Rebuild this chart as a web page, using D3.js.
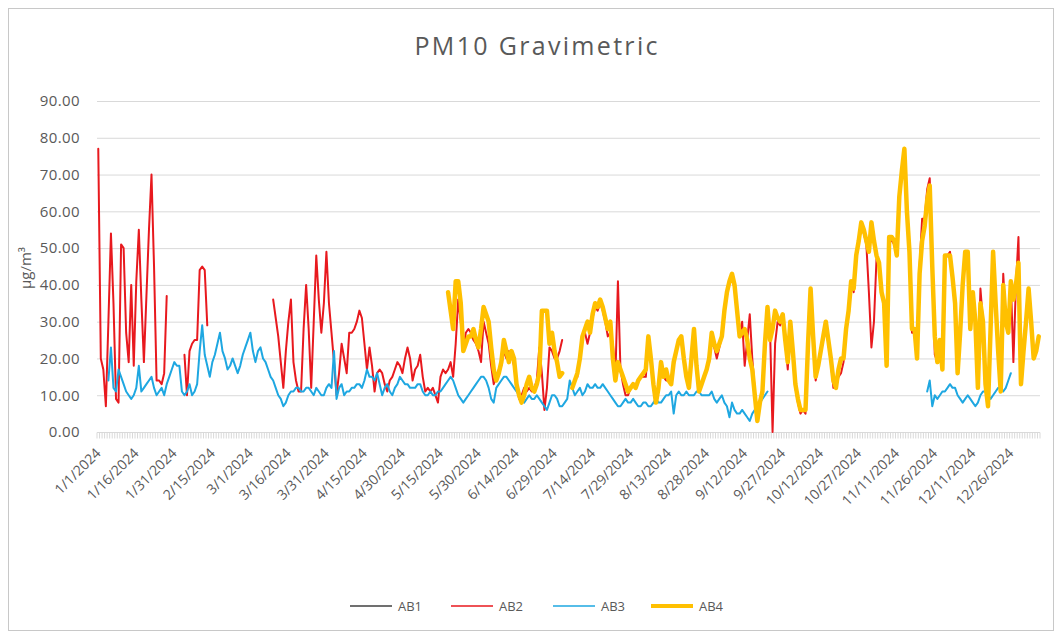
<!DOCTYPE html>
<html lang="en">
<head>
<meta charset="UTF-8">
<script src="https://cdn.jsdelivr.net/npm/d3@7/dist/d3.min.js"></script>
<style>
    body { margin: 0; background: #fff; }
    svg text { font-family: "Open Sans", "Liberation Sans", sans-serif; fill: #595959; }
</style>
</head>
<body>
<svg width="1062" height="634"></svg>
<script>
    // daily categories (sheet runs a few days into 2025), labels every 15 days
    var days = d3.timeDay.range(new Date(2024, 0, 1), new Date(2025, 0, 7));
    var fmt = function (d) { return (d.getMonth() + 1) + "/" + d.getDate() + "/" + d.getFullYear(); };
    var categories = days.map(fmt);
    var tickLabels = ["1/1/2024", "1/16/2024", "1/31/2024", "2/15/2024", "3/1/2024", "3/16/2024", "3/31/2024",
        "4/15/2024", "4/30/2024", "5/15/2024", "5/30/2024", "6/14/2024", "6/29/2024", "7/14/2024", "7/29/2024",
        "8/13/2024", "8/28/2024", "9/12/2024", "9/27/2024", "10/12/2024", "10/27/2024", "11/11/2024",
        "11/26/2024", "12/11/2024", "12/26/2024"];
    var yTicks = [0, 10, 20, 30, 40, 50, 60, 70, 80, 90];
    var seriesNames = ["AB1", "AB2", "AB3", "AB4"];

    // each series: runs of daily values, with the day index where each run starts
    var ab1Start = [];
    var ab1Values = [];

    var ab2Start = [0, 34, 69, 189];
    var ab2Values = [
        [77,20,17,7,30,54,35,9,8,51,50,27,19,40,18,41,55,36,19,37,55,70,45,14,14,13,16,37],
        [21,10,22,24,25,25,44,45,44,29],
        [36,31,26,19,12,22,30,36,19,14,11,11,28,40,28,12,30,48,36,27,35,49,35,27,
         19,10,16,24,20,16,27,27,28,30,33,31,24,17,23,18,11,16,17,16,13,11,14,15,17,19,18,16,20,23,20,14,17,18,21,15,
         11,12,11,12,10,8,15,17,16,17,19,15,24,36,30,22,27,28,27,25,24,22,19,30,27,
         24,18,13,15,17,18,22,20,22,21,18,14,9,10,12,11,12,11,12,14,23,16,6,12,23,22,20,20,22,25],
        [15,21,26,27,24,27,31,34,33,35,33,30,26,27,24,15,41,17,13,10,10,12,13,12,14,15,15,
         15,24,19,13,9,12,18,15,14,14,13,18,22,25,25,19,15,13,20,26,18,11,13,15,17,19,26,23,20,23,26,33,37,41,
         42,39,33,27,30,18,25,32,20,11,4,8,12,23,33,28,0,24,30,29,31,24,17,29,21,12,8,
         5,6,5,22,37,25,14,18,22,25,29,24,19,12,12,15,16,19,28,33,41,38,48,52,55,54,51,38,23,30,
         47,45,38,34,18,52,52,51,48,63,70,76,59,49,27,27,20,45,58,58,66,69,45,21,19,25,17,48,48,49,42,
         35,16,27,40,49,49,28,37,30,13,39,30,13,7,28,49,35,22,11,43,30,27,41,19,40,53,14,22,30,38,30,20,22,25]
    ];

    var ab3Start = [4, 327];
    var ab3Values = [
        [14,23,12,11,17,15,13,11,10,9,10,12,18,11,12,13,14,15,12,10,11,12,10,13,15,17,19,18,
         18,11,10,11,13,10,11,13,22,29,21,18,15,19,21,24,27,22,20,17,18,20,18,16,18,21,23,25,27,22,19,22,
         23,20,19,17,15,14,12,10,9,7,8,10,11,11,12,12,11,11,12,12,11,10,12,11,10,10,12,13,12,
         22,9,12,13,10,11,11,12,12,13,13,12,14,17,15,15,14,16,13,10,12,13,11,10,12,13,15,14,13,13,
         12,12,12,13,13,11,10,10,11,10,10,11,11,12,13,14,15,14,12,10,9,8,9,10,11,12,13,14,15,15,14,
         12,9,8,12,13,14,15,15,14,13,12,11,10,9,8,9,10,9,9,10,9,8,7,6,8,10,10,9,7,7,
         8,9,14,12,10,11,12,10,11,13,12,12,13,12,12,13,12,11,10,9,8,7,7,8,9,8,8,9,8,7,7,8,
         8,7,7,8,9,8,8,9,10,10,11,5,10,11,10,10,11,10,10,10,11,11,10,10,10,10,11,9,8,9,
         10,8,7,4,8,6,5,5,6,5,4,3,5,6,7,8,9,10,11],
        [11,14,7,10,9,10,11,11,12,13,12,12,10,9,8,9,10,9,8,7,8,10,11,11,10,9,10,11,12,12,11,12,14,16]
    ];

    var ab4Start = [138, 187];
    var ab4Values = [
        [38,33,28,41,41,35,22,24,26,26,28,25,23,28,34,32,
         30,23,17,14,16,19,25,22,19,22,20,13,10,8,10,13,15,12,11,13,16,33,33,33,24,27,22,19,15,16],
        [12,14,16,20,26,28,30,27,32,35,34,36,34,31,28,30,20,14,19,17,15,13,11,12,13,12,14,15,16,
         17,26,20,13,8,12,19,15,17,14,13,19,22,25,26,20,15,12,20,28,18,11,13,15,17,20,27,24,22,24,
         26,33,38,41,43,40,33,26,27,28,25,20,17,10,3,8,11,24,34,25,28,33,31,30,32,25,19,30,22,13,9,
         6,6,6,24,39,26,15,18,22,26,30,25,20,14,12,17,20,20,28,33,41,39,48,52,57,55,52,49,57,52,
         48,46,38,35,18,53,53,52,48,64,71,77,60,49,28,28,20,43,52,56,63,67,45,26,19,25,17,48,48,48,42,
         35,16,27,40,49,49,28,38,30,12,35,30,13,7,28,49,35,22,11,40,30,27,41,36,40,46,13,22,30,39,30,20,22,26]
    ];

    var colors = ["#404040", "#e8191e", "#1ea7e1", "#ffc000"];
    var widths = [2, 2, 2, 4.5];

    // turn runs into [day, value] points, with a break between runs
    function toPoints(starts, runs) {
        var pts = [];
        runs.forEach(function (vals, r) {
            if (r > 0) pts.push([starts[r] - 1, null]);
            vals.forEach(function (v, k) { pts.push([starts[r] + k, v]); });
        });
        return pts;
    }

    var svg = d3.select("svg");
    var plot = {left: 97, right: 1040, top: 101, bottom: 432};

    // chart frame
    svg.append("rect")
        .attr("x", 8.5).attr("y", 8.5)
        .attr("width", 1045).attr("height", 622)
        .attr("fill", "#fff")
        .attr("stroke", "#c8c8c8");

    var x = d3.scaleBand().domain(categories).range([plot.left, plot.right]);
    var y = d3.scaleLinear().domain([0, 90]).range([plot.bottom, plot.top]);
    var cx = function (d) { return x(categories[d]) + x.bandwidth() / 2; };

    // gridlines
    svg.append("g")
        .selectAll("line")
        .data(yTicks.slice(1))
        .enter()
        .append("line")
        .attr("x1", plot.left).attr("x2", plot.right)
        .attr("y1", function (d) { return y(d) + 0.5; })
        .attr("y2", function (d) { return y(d) + 0.5; })
        .attr("stroke", "#d9d9d9");

    // y axis labels
    var yAxis = svg.append("g")
        .attr("transform", "translate(" + (plot.left - 8) + ",0)")
        .call(d3.axisLeft(y).tickValues(yTicks).tickSize(0).tickPadding(9).tickFormat(d3.format(".2f")));
    yAxis.select(".domain").remove();
    yAxis.selectAll("text").style("font-size", "15px").style("letter-spacing", "0.4px").style("font-family", null);

    // x axis: daily tick marks, labels every 15 days
    var xAxis = svg.append("g")
        .attr("transform", "translate(0," + (plot.bottom + 0.5) + ")");
    xAxis.append("line")
        .attr("x1", plot.left).attr("x2", plot.right)
        .attr("stroke", "#d9d9d9");
    xAxis.selectAll("line.tick")
        .data(d3.range(categories.length + 1))
        .enter()
        .append("line")
        .attr("class", "tick")
        .attr("x1", function (i) { return plot.left + i * x.step(); })
        .attr("x2", function (i) { return plot.left + i * x.step(); })
        .attr("y1", 0).attr("y2", 6)
        .attr("stroke", "#d9d9d9");
    xAxis.selectAll("text")
        .data(tickLabels)
        .enter()
        .append("text")
        .attr("transform", function (d) {
            return "translate(" + (x(d) + x.bandwidth() / 2) + ",18) rotate(-45)";
        })
        .attr("text-anchor", "end")
        .attr("dy", "0.35em")
        .style("font-size", "14px")
        .text(function (d) { return d; });

    // series lines
    var line = d3.line()
        .defined(function (d) { return d[1] !== null; })
        .x(function (d) { return cx(d[0]); })
        .y(function (d) { return y(d[1]); });

    [[ab1Start, ab1Values], [ab2Start, ab2Values], [ab3Start, ab3Values], [ab4Start, ab4Values]].forEach(function (s, i) {
        svg.append("path")
            .datum(toPoints(s[0], s[1]))
            .attr("fill", "none")
            .attr("stroke", colors[i])
            .attr("stroke-width", widths[i])
            .attr("stroke-linejoin", "round")
            .attr("stroke-linecap", "round")
            .attr("d", line);
    });

    // title
    svg.append("text")
        .attr("x", 536).attr("y", 55)
        .attr("text-anchor", "middle")
        .attr("textLength", 243)
        .attr("lengthAdjust", "spacing")
        .style("font-size", "25px")
        .text("PM10 Gravimetric");

    // y axis title
    svg.append("text")
        .attr("transform", "translate(31,268) rotate(-90)")
        .attr("text-anchor", "middle")
        .style("font-size", "15px")
        .text("μg/m³");

    // legend
    var legendX = [350, 451, 553, 651];
    var legend = svg.append("g")
        .selectAll("g")
        .data(seriesNames)
        .enter()
        .append("g")
        .attr("transform", function (d, i) { return "translate(" + legendX[i] + ",606)"; });
    legend.append("line")
        .attr("x1", 0).attr("x2", 42)
        .attr("stroke", function (d, i) { return colors[i]; })
        .attr("stroke-width", function (d, i) { return widths[i] - 0.5; });
    legend.append("text")
        .attr("x", 48).attr("dy", "0.35em")
        .style("font-size", "13px")
        .text(function (d) { return d; });
</script>
</body>
</html>
